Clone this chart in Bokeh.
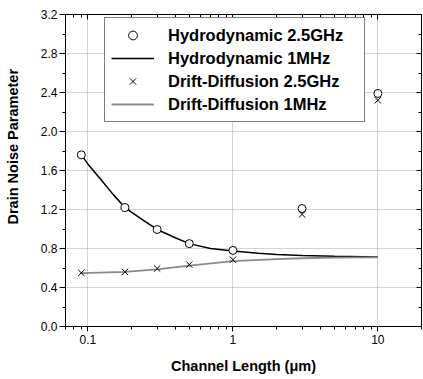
import math
from bokeh.plotting import figure
from bokeh.models import (LogAxis, LinearAxis, FixedTicker, SingleIntervalTicker,
                          NumeralTickFormatter, Legend, LegendItem, Title,
                          CustomJSTickFormatter)
from bokeh.embed import file_html
from bokeh.resources import INLINE

# ---- data ----
length_um = [0.09, 0.18, 0.3, 0.5, 1, 3, 10]
hd_25ghz = [1.76, 1.22, 0.995, 0.85, 0.78, 1.21, 2.39]
dd_25ghz = [0.55, 0.56, 0.595, 0.635, 0.685, 1.15, 2.32]

hd_1mhz_x = [0.09, 0.1, 0.124, 0.15, 0.18, 0.24, 0.3, 0.4, 0.5, 0.7, 1, 1.5, 2, 3, 5, 10]
hd_1mhz_y = [1.76, 1.665, 1.50, 1.35, 1.22, 1.09, 0.995, 0.91, 0.85, 0.80, 0.775, 0.752, 0.738, 0.728, 0.72, 0.713]

dd_1mhz_x = [0.09, 0.18, 0.3, 0.5, 1, 2, 3, 5, 10]
dd_1mhz_y = [0.547, 0.56, 0.585, 0.625, 0.67, 0.69, 0.70, 0.707, 0.71]

x_major_ticks = [0.1, 1, 10]
x_minor_ticks = [0.07, 0.08, 0.09, 0.2, 0.3, 0.4, 0.5, 0.6, 0.7, 0.8, 0.9,
                 2, 3, 4, 5, 6, 7, 8, 9, 20]

series_labels = ["Hydrodynamic 2.5GHz", "Hydrodynamic 1MHz",
                 "Drift-Diffusion 2.5GHz", "Drift-Diffusion 1MHz"]
x_title = "Channel Length (\u03bcm)"
y_title = "Drain Noise Parameter"

FONT = "Liberation Sans"

p = figure(width=423, height=379, x_axis_type="log", x_range=(0.07, 20), y_range=(0, 3.2),
           output_backend="svg", toolbar_location=None,
           min_border_left=65, min_border_right=2, min_border_top=14, min_border_bottom=53)
p.background_fill_color = "white"
p.border_fill_color = "white"
p.outline_line_color = "black"
p.outline_line_width = 1

# bottom axis
xa = p.xaxis[0]
xa.ticker = FixedTicker(ticks=x_major_ticks, minor_ticks=x_minor_ticks)
xa.formatter = NumeralTickFormatter(format="0.[0]")
xa.major_tick_out = 5
xa.major_tick_in = 0
xa.minor_tick_out = 3
xa.minor_tick_in = 0
xa.major_label_standoff = 3
xa.major_label_text_font = FONT
xa.major_label_text_font_size = "12px"
xa.major_label_text_color = "black"
xa.axis_line_color = "black"
xa.axis_label = x_title
xa.axis_label_text_font = FONT
xa.axis_label_text_font_size = "14.5px"
xa.axis_label_text_font_style = "bold"
xa.axis_label_text_color = "black"
xa.axis_label_standoff = 11

# left axis
ya = p.yaxis[0]
ya.ticker = SingleIntervalTicker(interval=0.4, num_minor_ticks=2)
ya.formatter = NumeralTickFormatter(format="0.0")
ya.major_tick_out = 6
ya.major_tick_in = 0
ya.minor_tick_out = 3
ya.minor_tick_in = 0
ya.major_label_standoff = 2
ya.major_label_text_font = FONT
ya.major_label_text_font_size = "12px"
ya.major_label_text_color = "black"
ya.axis_line_color = "black"

blank = CustomJSTickFormatter(code="return ''")
# top axis (ticks inside, no labels)
top = LogAxis(ticker=FixedTicker(ticks=x_major_ticks, minor_ticks=x_minor_ticks),
              formatter=blank,
              major_tick_in=5, major_tick_out=0, minor_tick_in=3, minor_tick_out=0,
              major_label_standoff=0, axis_line_color="black")
p.add_layout(top, "above")
# right axis (ticks inside, no labels)
right = LinearAxis(ticker=SingleIntervalTicker(interval=0.4, num_minor_ticks=2),
                   formatter=blank,
                   major_tick_in=5, major_tick_out=0, minor_tick_in=3, minor_tick_out=0,
                   major_label_standoff=0, axis_line_color="black")
p.add_layout(right, "right")

# grids
for g in (p.xgrid[0], p.ygrid[0]):
    g.grid_line_color = "#a8a8a8"
    g.grid_line_dash = "1 1"
    g.grid_line_width = 1
p.ygrid[0].ticker = ya.ticker
p.xgrid[0].ticker = FixedTicker(ticks=x_major_ticks)

# data renderers
r_hd1 = p.line(hd_1mhz_x, hd_1mhz_y, line_color="black", line_width=1.5)
r_dd1 = p.line(dd_1mhz_x, dd_1mhz_y, line_color="#8a8a8a", line_width=1.8)
r_hd25 = p.scatter(length_um, hd_25ghz, marker="circle", size=8, fill_color="white",
                   line_color="black", line_width=1)
r_dd25 = p.scatter(length_um, dd_25ghz, marker="x", size=9, line_color="black", line_width=1)

legend = Legend(items=[
    LegendItem(label=series_labels[0], renderers=[r_hd25]),
    LegendItem(label=series_labels[1], renderers=[r_hd1]),
    LegendItem(label=series_labels[2], renderers=[r_dd25]),
    LegendItem(label=series_labels[3], renderers=[r_dd1]),
])
legend.location = (39, 204)
legend.padding = 6
legend.spacing = 1
legend.margin = 0
legend.glyph_width = 43
legend.glyph_height = 22
legend.label_height = 22
legend.label_width = 190
legend.label_standoff = 14
legend.label_text_font = FONT
legend.label_text_font_size = "16.5px"
legend.label_text_font_style = "bold"
legend.label_text_color = "black"
legend.label_text_baseline = "middle"
legend.border_line_color = "black"
legend.border_line_width = 1
legend.background_fill_color = "white"
legend.background_fill_alpha = 1
p.add_layout(legend, "center")

spacer = Title(text=" ", text_font_size="1px", standoff=12, text_color="white")
p.add_layout(spacer, "left")
ytitle = Title(text=y_title, align="left", offset=102, standoff=4,
               text_font=FONT, text_font_size="14.5px", text_font_style="bold",
               text_color="black")
p.add_layout(ytitle, "left")

html = file_html(p, INLINE)
html = html.replace("<head>", "<head><style>html,body{margin:0;padding:0;overflow:hidden}</style>", 1)
open("out.html", "w").write(html)
